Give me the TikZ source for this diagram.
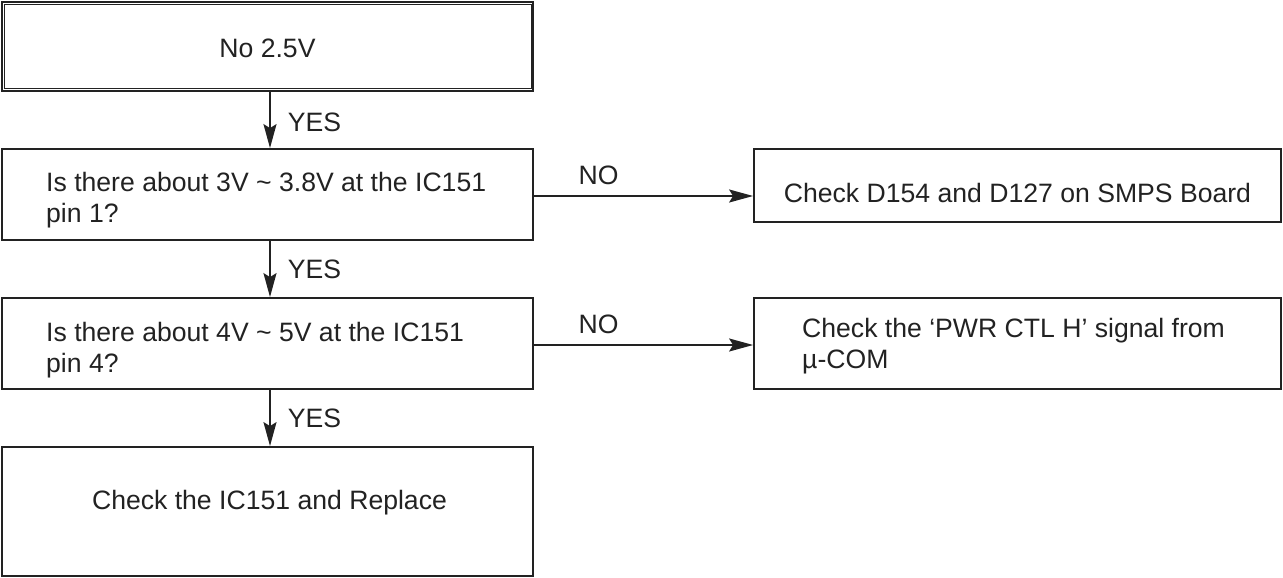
\documentclass[tikz,border=0pt]{standalone}
\usepackage{fontspec}
\setmainfont{Liberation Sans}
\usetikzlibrary{arrows.meta}
\definecolor{ink}{HTML}{222222}
\begin{document}
\begin{tikzpicture}[x=1pt,y=-1pt,
  box/.style={draw=ink, line width=1.8pt, inner sep=0pt, rectangle},
  lbl/.style={font=\fontsize{26.6}{31}\selectfont, text=ink, inner sep=0pt, align=left},
  arr/.style={draw=ink, line width=1.8pt, -{Stealth[length=24pt,width=13pt,inset=4pt]}},
]
\useasboundingbox (0,0) rectangle (1283,578);
% boxes
\node[box, minimum width=531, minimum height=89] (top) at (267.5,46.5) {};
\draw[ink, line width=0.8pt] ([shift={(3,3)}]top.north west) rectangle ([shift={(-3,-3)}]top.south east);
\node[box, minimum width=531, minimum height=91] (q1) at (267.5,194.5) {};
\node[box, minimum width=527, minimum height=73] (r1) at (1017.5,185.5) {};
\node[box, minimum width=531, minimum height=91] (q2) at (267.5,343.5) {};
\node[box, minimum width=527, minimum height=91] (r2) at (1017.5,343.5) {};
\node[box, minimum width=531, minimum height=129] (fin) at (267.5,511.5) {};
% texts
\node[lbl, anchor=base] (toptxt) at (267.5,57.5) {No 2.5V};
\node[lbl, anchor=base west] (q1txt) at (46,222.5) {Is there about 3V \textasciitilde{} 3.8V at the IC151\\pin 1?};
\node[lbl, anchor=base] (r1txt) at (1017.5,202.5) {Check D154 and D127 on SMPS Board};
\node[lbl, anchor=base west] (q2txt) at (46,372) {Is there about 4V \textasciitilde{} 5V at the IC151\\pin 4?};
\node[lbl, anchor=base west] (r2txt) at (802,368.5) {Check the ‘PWR CTL H’ signal from\\µ-COM};
\node[lbl, anchor=base] (fintxt) at (269.5,509.5) {Check the IC151 and Replace};
% connectors
\draw[arr] ([xshift=2.5pt]top.south) -- ([xshift=2.5pt]q1.north) node[lbl, pos=0.55, anchor=west, xshift=17pt] (y1) {YES};
\draw[arr] ([xshift=2.5pt]q1.south) -- ([xshift=2.5pt]q2.north) node[lbl, pos=0.5, anchor=west, xshift=17pt] (y2) {YES};
\draw[arr] ([xshift=2.5pt]q2.south) -- ([xshift=2.5pt]fin.north) node[lbl, pos=0.5, anchor=west, xshift=17pt] (y3) {YES};
\draw[arr] ([yshift=-1.5pt]q1.east) -- ([yshift=-1.5pt]q1.east -| r1.west) node[lbl, pos=0.2, anchor=south west, yshift=10pt] (n1) {NO};
\draw[arr] ([yshift=-1.5pt]q2.east) -- ([yshift=-1.5pt]q2.east -| r2.west) node[lbl, pos=0.2, anchor=south west, yshift=10pt] (n2) {NO};
\end{tikzpicture}
\end{document}
